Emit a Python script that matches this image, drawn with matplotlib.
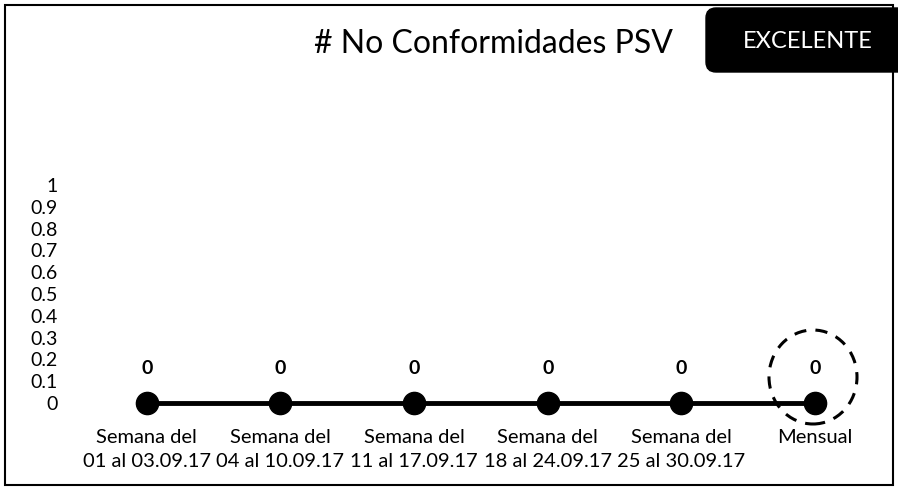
import matplotlib.pyplot as plt
from matplotlib.patches import Rectangle, FancyBboxPatch, Ellipse

categories = ["Semana del\n01 al 03.09.17", "Semana del\n04 al 10.09.17",
              "Semana del\n11 al 17.09.17", "Semana del\n18 al 24.09.17",
              "Semana del\n25 al 30.09.17", "Mensual"]
values = [0, 0, 0, 0, 0, 0]
y_ticks = [0, 0.1, 0.2, 0.3, 0.4, 0.5, 0.6, 0.7, 0.8, 0.9, 1]
y_tick_labels = ["0", "0.1", "0.2", "0.3", "0.4", "0.5", "0.6", "0.7", "0.8", "0.9", "1"]

plt.rcParams['font.family'] = ['Lato', 'DejaVu Sans']

fig = plt.figure(figsize=(8.98, 4.90), dpi=100)
ax = fig.add_axes([0.089, 0.1776, 0.893, 0.4449])

x = list(range(len(categories)))
ax.plot(x, values, color='black', linewidth=3.5, marker='o', markersize=16,
        clip_on=False, zorder=3)
for xi, v in zip(x, values):
    ax.annotate(str(v), (xi, v), xytext=(0, 19), textcoords='offset points',
                ha='center', va='bottom', fontsize=14, fontweight='bold')

ax.set_xlim(-0.5, len(categories) - 0.5)
ax.set_ylim(0, 1)
ax.set_yticks(y_ticks)
ax.set_yticklabels(y_tick_labels, fontsize=14)
ax.set_xticks(x)
ax.set_xticklabels(categories, fontsize=14.5, linespacing=1.5)
ax.tick_params(axis='both', length=0)
ax.tick_params(axis='y', pad=16)
ax.tick_params(axis='x', pad=19)
for s in ax.spines.values():
    s.set_visible(False)

# outer border
fig.patches.append(Rectangle((5, 5), 888, 480, transform=None, fill=False,
                             edgecolor='black', linewidth=1.5))

fig.text(0.55, 0.91, "# No Conformidades PSV", ha='center', va='center',
         fontsize=23)

# EXCELENTE badge
fig.patches.append(FancyBboxPatch((706, 418), 202, 64, transform=None,
                                  boxstyle="round,pad=0,rounding_size=10",
                                  facecolor='black', edgecolor='black'))
fig.text(808 / 898, 1 - 42 / 490, "EXCELENTE", ha='center', va='center',
         color='white', fontsize=17)

# dashed circle around monthly value
fig.patches.append(Ellipse((8.13, 1.13), 0.88, 0.94, transform=fig.dpi_scale_trans,
                           fill=False, edgecolor='black', linewidth=2.2,
                           linestyle=(0, (4, 3))))

fig.savefig("out.png", dpi=100)
